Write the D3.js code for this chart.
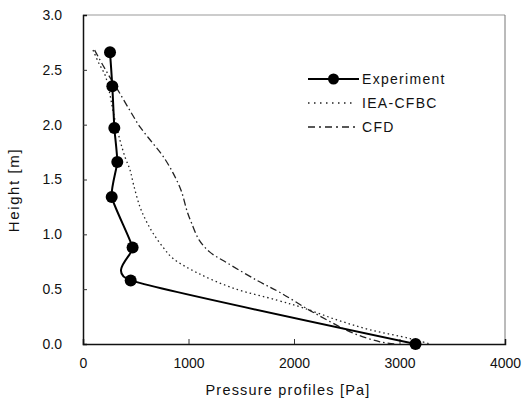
<!DOCTYPE html>
<html>
<head>
<meta charset="utf-8">
<script src="https://cdn.jsdelivr.net/npm/d3@7"></script>
<style>
  html, body { margin: 0; padding: 0; background: #fff; }
  svg { display: block; }
  text { font-family: "Liberation Sans", Arial, sans-serif; fill: #111; }
</style>
</head>
<body>
<svg id="chart" width="522" height="407"></svg>
<script>
// Measured pressure profile (Pa) against height (m)
const expPressure = [256, 278, 297, 325, 272, 470, 452, 3152];
const expHeight   = [2.66, 2.35, 1.97, 1.66, 1.34, 0.88, 0.58, 0.0];

// IEA-CFBC model prediction
const ieaPressure = [95, 150, 210, 250, 290, 350, 400, 445, 480, 540, 600, 664, 760, 853, 1081, 1422, 1839, 2085, 2407, 2720, 3100, 3290];
const ieaHeight   = [2.68, 2.56, 2.45, 2.30, 2.10, 1.86, 1.70, 1.59, 1.45, 1.25, 1.12, 1.01, 0.88, 0.78, 0.65, 0.51, 0.40, 0.33, 0.22, 0.13, 0.05, 0.0];

// CFD prediction
const cfdPressure = [110, 190, 275, 340, 450, 540, 654, 760, 853, 930, 990, 1030, 1100, 1200, 1365, 1649, 1867, 2180, 2559, 2815, 2950];
const cfdHeight   = [2.68, 2.54, 2.40, 2.30, 2.12, 1.98, 1.84, 1.71, 1.56, 1.40, 1.20, 1.10, 0.95, 0.84, 0.74, 0.58, 0.47, 0.29, 0.10, 0.02, 0.0];

const xTicks = [0, 1000, 2000, 3000, 4000];
const yTicks = [0.0, 0.5, 1.0, 1.5, 2.0, 2.5, 3.0];
const seriesNames = ["Experiment", "IEA-CFBC", "CFD"];

const svg = d3.select("#chart");
const plotLeft = 83, plotRight = 505, plotTop = 15, plotBottom = 344;

const x = d3.scaleLinear().domain([0, 4000]).range([plotLeft, plotRight]);
const y = d3.scaleLinear().domain([0, 3]).range([plotBottom, plotTop]);

const zip = (ps, hs) => ps.map((p, i) => ({ p, h: hs[i] }));
const expData = zip(expPressure, expHeight);
const ieaData = zip(ieaPressure, ieaHeight);
const cfdData = zip(cfdPressure, cfdHeight);

// frame: faint top and right edges
svg.append("line").attr("x1", plotLeft).attr("x2", plotRight).attr("y1", plotTop).attr("y2", plotTop)
  .attr("stroke", "#999").attr("stroke-width", 1);
svg.append("line").attr("x1", plotRight).attr("x2", plotRight).attr("y1", plotTop).attr("y2", plotBottom)
  .attr("stroke", "#777").attr("stroke-width", 1);

// axes with inward ticks
const xAxis = d3.axisBottom(x).tickValues(xTicks).tickSize(-5).tickPadding(14).tickFormat(d3.format("d"));
const yAxis = d3.axisLeft(y).tickValues(yTicks).tickSize(-4).tickPadding(21).tickFormat(d3.format(".1f"));

const gx = svg.append("g").attr("transform", `translate(0,${plotBottom})`).call(xAxis);
const gy = svg.append("g").attr("transform", `translate(${plotLeft},0)`).call(yAxis);
[gx, gy].forEach(g => {
  g.select(".domain").attr("stroke", "#111").attr("stroke-width", 1.5);
  g.selectAll(".tick line").attr("stroke", "#333").attr("stroke-width", 1);
  g.selectAll(".tick text").style("font-size", "14px").attr("fill", "#111")
    .style("font-family", "'Liberation Sans', Arial, sans-serif");
});
gx.selectAll(".tick").filter(d => d === 0 || d === 4000).select("line").remove();
gy.selectAll(".tick").filter(d => d === 0 || d === 3).select("line").remove();

// axis titles
svg.append("text").attr("x", 288).attr("y", 395)
  .attr("text-anchor", "middle").style("font-size", "14.5px").style("letter-spacing", "1.2px")
  .text("Pressure profiles [Pa]");
svg.append("text").attr("transform", "translate(19,190) rotate(-90)")
  .attr("text-anchor", "middle").style("font-size", "15px").style("letter-spacing", "1.6px")
  .text("Height [m]");

const line = d3.line().x(d => x(d.p)).y(d => y(d.h));

// model curves
svg.append("path").datum(ieaData)
  .attr("d", line.curve(d3.curveCatmullRom.alpha(0.5)))
  .attr("fill", "none").attr("stroke", "#222").attr("stroke-width", 1.3)
  .attr("stroke-dasharray", "1.5,3");
svg.append("path").datum(cfdData)
  .attr("d", line.curve(d3.curveCatmullRom.alpha(0.5)))
  .attr("fill", "none").attr("stroke", "#222").attr("stroke-width", 1.3)
  .attr("stroke-dasharray", "7,3,1.5,3");

// experiment: lightly smoothed polyline through the measurements
svg.append("path").datum(expData)
  .attr("d", line.curve(d3.curveCardinal.tension(0.5)))
  .attr("fill", "none").attr("stroke", "#000").attr("stroke-width", 2);
svg.selectAll("circle.exp").data(expData).enter().append("circle")
  .attr("class", "exp").attr("cx", d => x(d.p)).attr("cy", d => y(d.h))
  .attr("r", 6).attr("fill", "#000");

// legend
const lg = svg.append("g");
const lx0 = 308, lx1 = 359, ly = [79, 103, 127];
lg.append("line").attr("x1", lx0).attr("x2", lx1).attr("y1", ly[0]).attr("y2", ly[0])
  .attr("stroke", "#000").attr("stroke-width", 2);
lg.append("circle").attr("cx", (lx0 + lx1) / 2).attr("cy", ly[0]).attr("r", 5.5).attr("fill", "#000");
lg.append("line").attr("x1", lx0).attr("x2", lx1 - 6).attr("y1", ly[1]).attr("y2", ly[1])
  .attr("stroke", "#222").attr("stroke-width", 1.3).attr("stroke-dasharray", "1.5,4.5");
lg.append("line").attr("x1", lx0).attr("x2", lx1).attr("y1", ly[2]).attr("y2", ly[2])
  .attr("stroke", "#222").attr("stroke-width", 1.3).attr("stroke-dasharray", "7,4,2,4");
seriesNames.forEach((name, i) => {
  lg.append("text").attr("x", lx1 + 3).attr("y", ly[i] + 5)
    .style("font-size", "14px").style("letter-spacing", "1.3px").text(name);
});
</script>
</body>
</html>
